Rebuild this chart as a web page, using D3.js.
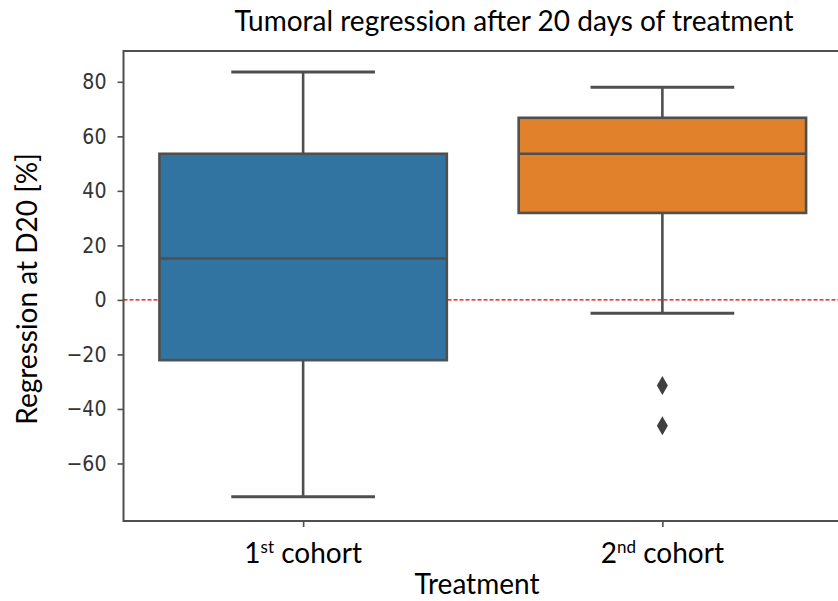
<!DOCTYPE html>
<html>
<head>
<meta charset="utf-8">
<script src="https://cdn.jsdelivr.net/npm/d3@7"></script>
<style>
  body { margin: 0; background: #fff; }
  svg { display: block; }
</style>
</head>
<body>
<div id="chart"></div>
<script>
// box statistics
var cohorts = ["1st", "2nd"];
var whiskerHigh = [83.6, 78];
var q3 = [53.6, 66.8];
var median = [15.2, 53.6];
var q1 = [-22.1, 31.9];
var whiskerLow = [-72.2, -4.9];
var outliers = [[], [-31.4, -46.2]];
var yTicks = [-60, -40, -20, 0, 20, 40, 60, 80];
var colors = ["#3274a1", "#e1812c"];

var width = 838, height = 601;
var svg = d3.select("#chart").append("svg")
    .attr("width", width)
    .attr("height", height);

/* plot area: left spine at 123, right spine just past the window */
var x = d3.scaleLinear().domain([-0.5, 1.5]).range([123.5, 842]);
var y = d3.scaleLinear().domain([-81.1, 91.3]).range([521, 51]);

var lineCol = "#4f4f4f";
var labelFont = "Lato, 'Open Sans', sans-serif";

/* red reference line at 0 */
svg.append("line")
    .attr("x1", x(-0.5)).attr("x2", width)
    .attr("y1", y(0)).attr("y2", y(0))
    .attr("stroke", "#e00000")
    .attr("stroke-width", 1.2)
    .attr("stroke-dasharray", "4,2");

/* boxes */
var boxW = 0.8, capW = 0.4;
var g = svg.selectAll("g.box")
    .data(cohorts)
    .enter().append("g")
    .attr("class", "box");

g.append("line") // whisker up
    .attr("x1", function(d, i){ return x(i); })
    .attr("x2", function(d, i){ return x(i); })
    .attr("y1", function(d, i){ return y(q3[i]); })
    .attr("y2", function(d, i){ return y(whiskerHigh[i]); })
    .attr("stroke", lineCol).attr("stroke-width", 2.6);
g.append("line") // whisker down
    .attr("x1", function(d, i){ return x(i); })
    .attr("x2", function(d, i){ return x(i); })
    .attr("y1", function(d, i){ return y(q1[i]); })
    .attr("y2", function(d, i){ return y(whiskerLow[i]); })
    .attr("stroke", lineCol).attr("stroke-width", 2.6);
g.append("line") // top cap
    .attr("x1", function(d, i){ return x(i - capW / 2); })
    .attr("x2", function(d, i){ return x(i + capW / 2); })
    .attr("y1", function(d, i){ return y(whiskerHigh[i]); })
    .attr("y2", function(d, i){ return y(whiskerHigh[i]); })
    .attr("stroke", lineCol).attr("stroke-width", 3);
g.append("line") // bottom cap
    .attr("x1", function(d, i){ return x(i - capW / 2); })
    .attr("x2", function(d, i){ return x(i + capW / 2); })
    .attr("y1", function(d, i){ return y(whiskerLow[i]); })
    .attr("y2", function(d, i){ return y(whiskerLow[i]); })
    .attr("stroke", lineCol).attr("stroke-width", 3);
g.append("rect")
    .attr("x", function(d, i){ return x(i - boxW / 2); })
    .attr("width", function(d, i){ return x(i + boxW / 2) - x(i - boxW / 2); })
    .attr("y", function(d, i){ return y(q3[i]); })
    .attr("height", function(d, i){ return y(q1[i]) - y(q3[i]); })
    .attr("fill", function(d, i){ return colors[i]; })
    .attr("stroke", lineCol).attr("stroke-width", 2.6);
g.append("line") // median
    .attr("x1", function(d, i){ return x(i - boxW / 2); })
    .attr("x2", function(d, i){ return x(i + boxW / 2); })
    .attr("y1", function(d, i){ return y(median[i]); })
    .attr("y2", function(d, i){ return y(median[i]); })
    .attr("stroke", lineCol).attr("stroke-width", 2.6);

/* outliers as thin diamonds */
var fliers = [];
outliers.forEach(function(list, i){
    list.forEach(function(v){ fliers.push({i: i, v: v}); });
});
svg.selectAll("path.flier")
    .data(fliers)
    .enter().append("path")
    .attr("class", "flier")
    .attr("d", "M0,-9.5L5.5,0L0,9.5L-5.5,0Z")
    .attr("transform", function(d){ return "translate(" + x(d.i) + "," + y(d.v) + ")"; })
    .attr("fill", "#3f3f3f");

/* axes */
var yAxis = d3.axisLeft(y).tickValues(yTicks).tickSize(6).tickPadding(11)
    .tickFormat(function(d){ return d < 0 ? "\u2212" + Math.abs(d) : d; });
var ya = svg.append("g").attr("transform", "translate(" + x(-0.5) + ",0)").call(yAxis);
ya.select(".domain").remove();
ya.selectAll("line").attr("stroke", lineCol).attr("stroke-width", 1.6);
ya.selectAll("text")
    .attr("font-family", "'DejaVu Sans', sans-serif")
    .attr("font-size", 19)
    .attr("transform", "scale(1,1.15)")
    .attr("fill", "#333");

var xa = svg.append("g").attr("transform", "translate(0," + y(-81.1) + ")")
    .call(d3.axisBottom(x).tickValues([0, 1]).tickSize(6).tickFormat(""));
xa.select(".domain").remove();
xa.selectAll("line").attr("stroke", lineCol).attr("stroke-width", 1.6);

/* frame */
svg.append("rect")
    .attr("x", x(-0.5)).attr("y", y(91.3))
    .attr("width", x(1.5) - x(-0.5))
    .attr("height", y(-81.1) - y(91.3))
    .attr("fill", "none")
    .attr("stroke", lineCol)
    .attr("stroke-width", 2);

/* category labels with superscripts */
var sups = ["st", "nd"];
var cat = svg.selectAll("text.cat")
    .data(cohorts)
    .enter().append("text")
    .attr("class", "cat")
    .attr("x", function(d, i){ return x(i); })
    .attr("y", 563)
    .attr("text-anchor", "middle")
    .attr("font-family", labelFont)
    .attr("font-size", 28)
    .attr("fill", "#000");
cat.append("tspan").text(function(d){ return d.charAt(0); });
cat.append("tspan").attr("dy", -10).attr("font-size", 17)
    .text(function(d, i){ return sups[i]; });
cat.append("tspan").attr("dy", 10).text(" cohort");

svg.append("text")
    .attr("x", 477).attr("y", 594)
    .attr("text-anchor", "middle")
    .attr("font-family", labelFont)
    .attr("font-size", 28)
    .text("Treatment");

svg.append("text")
    .attr("transform", "translate(37,289) rotate(-90)")
    .attr("text-anchor", "middle")
    .attr("font-family", labelFont)
    .attr("font-size", 28)
    .text("Regression at D20 [%]");

svg.append("text")
    .attr("x", 514).attr("y", 31)
    .attr("text-anchor", "middle")
    .attr("font-family", labelFont)
    .attr("font-size", 28)
    .text("Tumoral regression after 20 days of treatment");
</script>
</body>
</html>
